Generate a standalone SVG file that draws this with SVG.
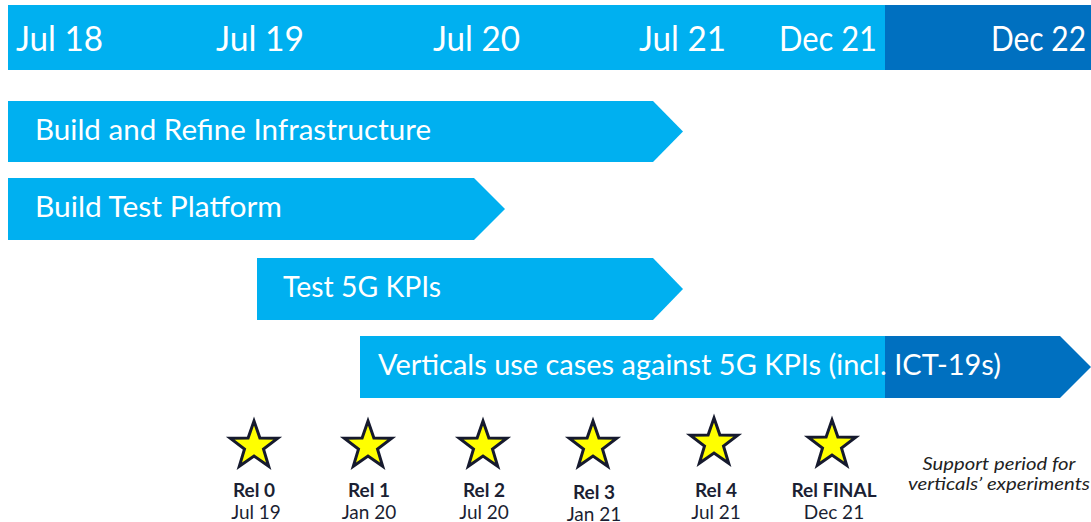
<svg xmlns="http://www.w3.org/2000/svg" xmlns:xlink="http://www.w3.org/1999/xlink" width="1091" height="522" viewBox="0 0 1091 522">
<style>
.light{fill:#00B0F0}
.dark{fill:#0070C0}
.hdr{font-family:Lato,"Open Sans","Liberation Sans",sans-serif;font-size:35px;fill:#fff}
.bar{font-family:Lato,"Open Sans","Liberation Sans",sans-serif;font-size:28px;fill:#fff}
.rel{font-family:Lato,"Open Sans","Liberation Sans",sans-serif;font-size:19px;font-weight:bold;fill:#1b1f33;text-anchor:middle}
.date{font-family:Lato,"Open Sans","Liberation Sans",sans-serif;font-size:19px;fill:#1b1f33;text-anchor:middle}
.note{font-family:Lato,"Open Sans","Liberation Sans",sans-serif;font-size:18px;font-style:italic;fill:#222;text-anchor:middle}
.star{fill:#FFFF00;stroke:#161a2e;stroke-width:3;stroke-linejoin:miter}
</style>
<defs>
<path id="star" class="star" d="M0,-25 L5.88,-8.09 L23.78,-7.73 L9.51,3.09 L14.69,20.23 L0,10 L-14.69,20.23 L-9.51,3.09 L-23.78,-7.73 L-5.88,-8.09 Z"/>
</defs>
<rect width="1091" height="522" fill="#fff"/>
<g id="timeline">
<rect class="light" x="8" y="5" width="877" height="65"/>
<rect class="dark" x="885" y="5" width="206" height="65"/>
<text class="hdr" x="16" y="51" textLength="87" lengthAdjust="spacingAndGlyphs">Jul 18</text>
<text class="hdr" x="216" y="51" textLength="88" lengthAdjust="spacingAndGlyphs">Jul 19</text>
<text class="hdr" x="433" y="51" textLength="87" lengthAdjust="spacingAndGlyphs">Jul 20</text>
<text class="hdr" x="639" y="51" textLength="87" lengthAdjust="spacingAndGlyphs">Jul 21</text>
<text class="hdr" x="779" y="51" textLength="98" lengthAdjust="spacingAndGlyphs">Dec 21</text>
<text class="hdr" x="991" y="51" textLength="95" lengthAdjust="spacingAndGlyphs">Dec 22</text>
</g>
<g id="bar-infrastructure">
<polygon class="light" points="8,101 653,101 683,131.5 653,162 8,162"/>
<text class="bar" x="35" y="140" textLength="396" lengthAdjust="spacingAndGlyphs">Build and Refine Infrastructure</text>
</g>
<g id="bar-platform">
<polygon class="light" points="8,178 474,178 505,209 474,240 8,240"/>
<text class="bar" x="35" y="217" textLength="247" lengthAdjust="spacingAndGlyphs">Build Test Platform</text>
</g>
<g id="bar-kpis">
<polygon class="light" points="257,258 653,258 683,289 653,320 257,320"/>
<text class="bar" x="283" y="297" textLength="158" lengthAdjust="spacingAndGlyphs">Test 5G KPIs</text>
</g>
<g id="bar-verticals">
<rect class="light" x="360" y="336" width="525" height="62"/>
<polygon class="dark" points="885,336 1060,336 1091,367 1060,398 885,398"/>
<text class="bar" x="378" y="375" textLength="623" lengthAdjust="spacingAndGlyphs">Verticals use cases against 5G KPIs (incl. ICT-19s)</text>
</g>
<g id="rel0">
<use xlink:href="#star" x="254" y="446"/>
<text class="rel" x="254" y="497">Rel 0</text>
<text class="date" x="256" y="519">Jul 19</text>
</g>
<g id="rel1">
<use xlink:href="#star" x="368" y="446"/>
<text class="rel" x="369" y="497">Rel 1</text>
<text class="date" x="369" y="519">Jan 20</text>
</g>
<g id="rel2">
<use xlink:href="#star" x="483" y="446"/>
<text class="rel" x="484" y="497">Rel 2</text>
<text class="date" x="484" y="519">Jul 20</text>
</g>
<g id="rel3">
<use xlink:href="#star" x="593" y="446"/>
<text class="rel" x="594" y="499">Rel 3</text>
<text class="date" x="594" y="521">Jan 21</text>
</g>
<g id="rel4">
<use xlink:href="#star" x="714" y="443"/>
<text class="rel" x="716" y="497">Rel 4</text>
<text class="date" x="716" y="519">Jul 21</text>
</g>
<g id="relfinal">
<use xlink:href="#star" x="832" y="445"/>
<text class="rel" x="834" y="497">Rel FINAL</text>
<text class="date" x="834" y="519">Dec 21</text>
</g>
<g id="support-note">
<text class="note" x="999" y="470" textLength="153" lengthAdjust="spacingAndGlyphs">Support period for</text>
<text class="note" x="999" y="490" textLength="182" lengthAdjust="spacingAndGlyphs">verticals’ experiments</text>
</g>
<g id="connectors"></g>
</svg>
